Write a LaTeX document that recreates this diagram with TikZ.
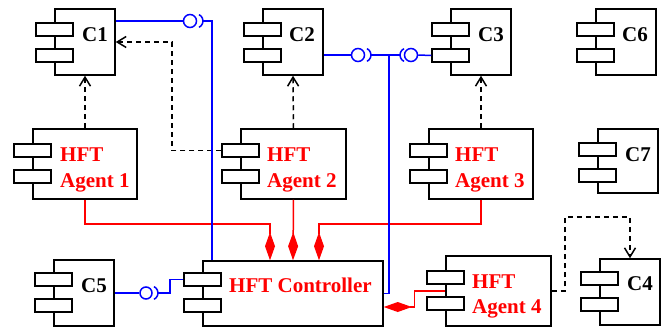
\documentclass[tikz,border=0pt]{standalone}
\usepackage{fontspec}
\setmainfont{Liberation Serif}
\usetikzlibrary{arrows.meta,fit}
\tikzset{
  body/.style={draw=black, line width=1.5pt, rectangle, inner sep=0pt},
  port/.style={draw=black, fill=white, line width=1.5pt, rectangle, inner sep=0pt},
  lbl/.style={inner sep=0pt, anchor=base west, font=\fontsize{21}{26}\selectfont\bfseries},
  redlbl/.style={lbl, text=red},
  bl/.style={draw=blue, line width=1.5pt},
  ball/.style={circle, draw=blue, line width=1.5pt, inner sep=0pt},
  dep/.style={draw=black, line width=1.5pt, dash pattern=on 5pt off 4pt, -{Straight Barb[length=9pt,width=11pt]}},
  agg/.style={draw=red, line width=1.5pt, -{Diamond[length=28pt,width=10pt]}},
}
\newcommand\mkcomp[7]{%
  \node[body, fit={(#2,#3) (#4,#5)}] (#1) {};
  \node[port, fit={({#2-19},#6) ({#2+18},{#6+13})}] (#1-a) {};
  \node[port, fit={({#2-19},#7) ({#2+18},{#7+13})}] (#1-b) {};
}
\newcommand\sockR[1]{\draw[bl] (#1) ++(-7pt,0pt) ++(-65:7pt) arc[start angle=-65,end angle=65,radius=7pt];}
\newcommand\sockL[1]{\draw[bl] (#1) ++(7pt,0pt) ++(115:7pt) arc[start angle=115,end angle=245,radius=7pt];}
\begin{document}
\begin{tikzpicture}[x=1pt,y=-1pt]
\useasboundingbox (0,0) rectangle (665,329);
% components
\mkcomp{c1}{55}{9}{115}{75}{23}{49}
\mkcomp{c2}{263}{9}{323}{75}{23}{49}
\mkcomp{c3}{451}{9}{511}{75}{23}{49}
\mkcomp{c6}{596}{9}{656}{75}{23}{49}
\mkcomp{c7}{598}{129}{658}{193}{143}{169}
\mkcomp{a1}{33}{129}{137}{199}{144}{170}
\mkcomp{a2}{241}{129}{346}{199}{144}{170}
\mkcomp{a3}{429}{129}{533}{199}{144}{170}
\mkcomp{c5}{54}{260}{114}{326}{273}{299}
\mkcomp{ctl}{203}{261}{383}{326}{273}{299}
\mkcomp{a4}{446}{256}{551}{326}{271}{297}
\mkcomp{c4}{600}{259}{660}{325}{272}{298}
% labels
\node[lbl] (c1t) at (82,42) {C1};
\node[lbl] (c2t) at (289,42) {C2};
\node[lbl] (c3t) at (478,42) {C3};
\node[lbl] (c6t) at (622,42) {C6};
\node[lbl] (c7t) at (625,161) {C7};
\node[lbl] (c4t) at (627,290) {C4};
\node[lbl] (c5t) at (81,292) {C5};
\node[redlbl] (ctlt) at (229,292) {HFT Controller};
\node[redlbl] (a1t1) at (60,161) {HFT};
\node[redlbl] (a1t2) at (60,187) {Agent 1};
\node[redlbl] (a2t1) at (267,161) {HFT};
\node[redlbl] (a2t2) at (267,187) {Agent 2};
\node[redlbl] (a3t1) at (455,161) {HFT};
\node[redlbl] (a3t2) at (455,187) {Agent 3};
\node[redlbl] (a4t1) at (472,288) {HFT};
\node[redlbl] (a4t2) at (472,313) {Agent 4};
% dependencies
\coordinate (k1) at (172,42);
\coordinate (k4) at (565,217);
\draw[dep] (a1.north) -- (c1.south);
\draw[dep] (a2.north) -- (c2.south);
\draw[dep] (a3.north) -- (c3.south);
\draw[dep] (a2-a.west) -| (k1) -- (c1.east);
\draw[dep] (a4.east) -| (k4) -| (c4.north);
% aggregations
\draw[agg] (a1.south) -- ++(0,24) -| ([xshift=-23pt]ctl.north);
\draw[agg] (a2.south) -- (ctl.north);
\draw[agg] (a3.south) -- ++(0,24) -| ([xshift=26pt]ctl.north);
\draw[agg] (a4.west) -- ++(-31,0) |- ([yshift=-13.5pt]ctl.east);
% ball and socket links
\node[ball, minimum size=13pt] (b1) at (190,21) {};
\coordinate (s1) at (203,21);
\sockR{s1}
\draw[bl] ([yshift=21pt]c1.east) -- (b1.west);
\draw[bl] (s1) -| ([xshift=-81pt]ctl.north);
\node[ball, minimum size=13pt] (b2) at (358,55) {};
\coordinate (s2) at (371,55);
\sockR{s2}
\draw[bl] ([yshift=-13pt]c2.east) -- (b2.west);
\coordinate (s3) at (400,55);
\sockL{s3}
\node[ball, minimum size=13pt] (b3) at (411,55) {};
\draw[bl] (s2) -- (s3);
\draw[bl] (b3.east) -- (c3-b.west);
\coordinate (j) at (389,55);
\draw[bl] (j) |- (ctl.east);
\node[ball, minimum size=12pt] (b5) at (146,293) {};
\coordinate (s5) at (158,293);
\sockR{s5}
\draw[bl] (c5.east) -- (b5.west);
\draw[bl] (s5) -- ++(12,0) |- (ctl-a.west);
\end{tikzpicture}
\end{document}
